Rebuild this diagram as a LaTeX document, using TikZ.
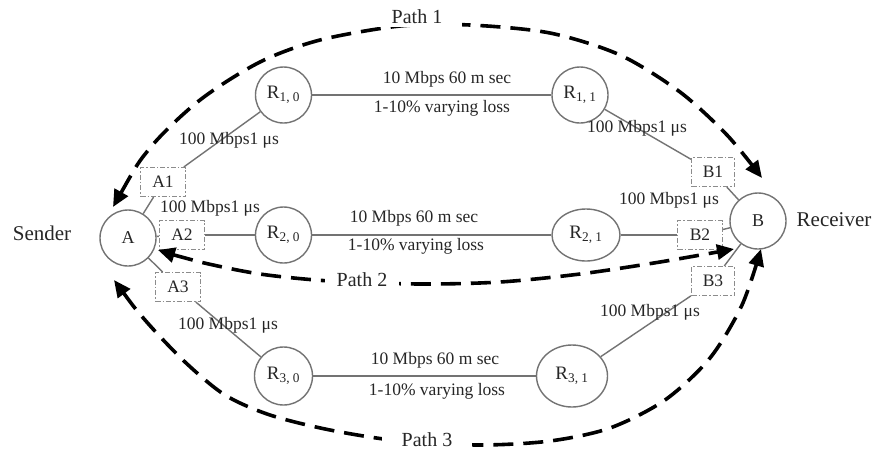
\documentclass[tikz,border=0pt]{standalone}
\usepackage{fontspec}
\setmainfont{Liberation Serif}
\usetikzlibrary{arrows.meta,shapes.geometric}
\begin{document}
\begin{tikzpicture}[x=1pt,y=-1pt,
  nodecircle/.style={circle, draw=black!55, line width=1.4pt, fill=white, inner sep=0pt, minimum size=56pt, font=\fontsize{19}{19}\selectfont, text=black!85},
  nodeoval/.style={ellipse, draw=black!55, line width=1.4pt, fill=white, inner sep=0pt, font=\fontsize{19}{19}\selectfont, text=black!85},
  endcircle/.style={circle, draw=black!55, line width=1.4pt, fill=white, inner sep=0pt, minimum size=56pt, font=\fontsize{18}{18}\selectfont, text=black!85},
  port/.style={draw=black!45, dash pattern=on 5pt off 2pt on 1.5pt off 2pt, line width=1.1pt, fill=white, inner sep=0pt, minimum width=45pt, minimum height=29pt, font=\fontsize{17.5}{17.5}\selectfont, text=black!85},
  link/.style={draw=black!55, line width=1.4pt},
  linklabel/.style={font=\fontsize{17.5}{17.5}\selectfont, text=black!85, inner sep=0pt},
  sidelabel/.style={font=\fontsize{21}{21}\selectfont, text=black!85, inner sep=0pt},
  pathlabel/.style={font=\fontsize{20}{20}\selectfont, text=black!85, fill=white, inner ysep=3pt},
  flow/.style={draw=black, line width=3.6pt, dash pattern=on 20pt off 10pt, {Triangle[length=17pt,width=15pt]}-{Triangle[length=17pt,width=15pt]}}
]
\useasboundingbox (0,0) rectangle (872,451);
\fill[white] (0,0) rectangle (872,451);

% end nodes
\node[endcircle] (A) at (128,238) {A};
\node[endcircle] (B) at (758,221) {B};
\node[sidelabel] (snd) at (42,233) {Sender};
\node[sidelabel] (rcv) at (834,220) {Receiver};

% routers
\node[nodecircle] (R10) at (283.5,95) {R\textsubscript{1, 0}};
\node[nodecircle] (R11) at (580,95) {R\textsubscript{1, 1}};
\node[nodecircle] (R20) at (283.5,235) {R\textsubscript{2, 0}};
\node[nodeoval, minimum width=68pt, minimum height=52pt] (R21) at (586,235) {R\textsubscript{2, 1}};
\node[nodecircle, minimum size=58pt] (R30) at (283.5,376) {R\textsubscript{3, 0}};
\node[nodeoval, minimum width=71pt, minimum height=62pt] (R31) at (572,376) {R\textsubscript{3, 1}};

% ports
\node[port] (A1) at (163,182) {A1};
\node[port] (A2) at (182,235) {A2};
\node[port] (A3) at (178,287) {A3};
\node[port, minimum width=43pt] (B1) at (713,172) {B1};
\node[port] (B2) at (700,235) {B2};
\node[port, minimum width=43pt] (B3) at (713,281) {B3};

% links
\draw[link] (A) -- (A1);
\draw[link] (A1) -- (R10);
\draw[link] (A) -- (A2);
\draw[link] (A2) -- (R20);
\draw[link] (A) -- (A3);
\draw[link] (A3) -- (R30);
\draw[link] (R10) -- (R11);
\draw[link] (R20) -- (R21);
\draw[link] (R30) -- (R31);
\draw[link] (R11) -- (B1);
\draw[link] (B1) -- (B);
\draw[link] (R21) -- (B2);
\draw[link] (B2) -- (B);
\draw[link] (R31) -- (B3);
\draw[link] (B3) -- (B);

% link labels
\node[linklabel] (t1a) at (447,79) {10 Mbps 60 m sec};
\node[linklabel] (t1b) at (442,108) {1-10\% varying loss};
\node[linklabel] (t2a) at (414,218) {10 Mbps 60 m sec};
\node[linklabel] (t2b) at (416,246) {1-10\% varying loss};
\node[linklabel] (t3a) at (435,360) {10 Mbps 60 m sec};
\node[linklabel] (t3b) at (437,391) {1-10\% varying loss};
\node[linklabel] (u1) at (229,140) {100 Mbps1 μs};
\node[linklabel] (u2) at (210,208) {100 Mbps1 μs};
\node[linklabel] (u3) at (228,325) {100 Mbps1 μs};
\node[linklabel] (u4) at (637,128) {100 Mbps1 μs};
\node[linklabel] (u5) at (669,200) {100 Mbps1 μs};
\node[linklabel] (u6) at (650,312) {100 Mbps1 μs};

% flow paths
\coordinate (p1s) at (113,207);
\coordinate (p1e) at (762,178);
\coordinate (p2s) at (158,250);
\coordinate (p2e) at (734,249);
\coordinate (p3s) at (114,280);
\coordinate (p3e) at (761,249);
\draw[flow] plot[smooth] coordinates {(p1s) (150,148) (200,100) (260,62) (320,40) (400,26) (470,25) (550,33) (620,55) (680,92) (727,135) (p1e)};
\draw[flow] plot[smooth] coordinates {(p2s) (200,262) (260,274) (330,281) (420,284) (500,282) (580,274) (660,262) (p2e)};
\draw[flow] plot[smooth] coordinates {(p3s) (145,320) (185,362) (225,395) (270,415) (330,430) (400,441) (480,445) (550,441) (610,428) (665,400) (710,358) (742,305) (p3e)};

\node[pathlabel, inner xsep=20pt] (P1) at (417,17) {Path 1};
\node[pathlabel, inner xsep=12pt] (P2) at (362,280) {Path 2};
\node[pathlabel, inner xsep=20pt] (P3) at (427,440) {Path 3};
\end{tikzpicture}
\end{document}
